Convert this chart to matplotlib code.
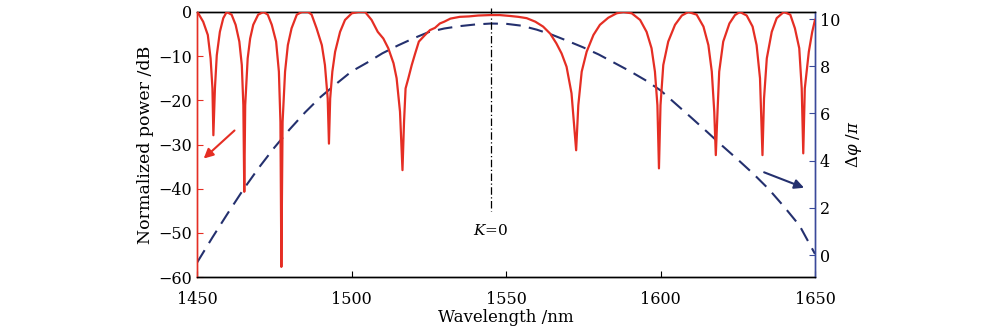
import matplotlib
matplotlib.use("Agg")
import matplotlib.pyplot as plt

plt.rcParams['font.family'] = ['DejaVu Serif']
plt.rcParams['mathtext.fontset'] = 'dejavuserif'

# Red curve: normalized power (dB) vs wavelength (nm)
wl_red = [1450.0, 1450.4, 1452.0, 1453.5, 1454.4, 1455.0, 1455.3, 1455.8, 1456.4, 1457.4, 1458.5, 1459.6,
          1461.2, 1462.5, 1463.7, 1464.5, 1465.0, 1465.3, 1465.6, 1466.4, 1467.2, 1468.2, 1469.8, 1471.5,
          1472.9, 1474.2, 1475.6, 1476.5, 1477.0, 1477.3, 1477.7, 1478.5, 1479.4, 1480.6, 1482.3, 1483.9, 1486.0,
          1487.1, 1488.7, 1490.4, 1491.4, 1492.3, 1492.7, 1493.1, 1493.8, 1494.7, 1496.3, 1497.9, 1500.1, 1502.2,
          1504.4, 1506.5, 1508.5, 1510.3, 1511.9, 1513.6, 1514.6, 1515.7, 1516.5,
          1517.0, 1517.5, 1518.4, 1519.5, 1520.6, 1521.8, 1523.8, 1525.4, 1527.0, 1528.6, 1530.0,
          1532.0, 1535.0, 1538.0, 1541.0, 1544.8, 1548.0, 1551.3, 1554.0, 1556.7, 1559.5, 1562.0, 1564.3,
          1566.3, 1568.0, 1569.6, 1571.2, 1572.7,
          1573.4, 1574.5, 1576.1, 1578.3, 1580.4, 1583.1, 1585.8, 1588.0, 1590.7, 1593.4, 1595.5, 1597.1,
          1598.2, 1599.0, 1599.5,
          1600.0, 1600.9, 1602.5, 1604.7, 1606.9, 1609.0, 1611.7, 1613.9, 1615.5, 1616.6, 1617.4, 1617.9,
          1618.4, 1619.0, 1620.3, 1622.3, 1624.1, 1625.7, 1627.9, 1629.8, 1631.1, 1632.2, 1633.0,
          1633.5, 1634.4, 1636.0, 1637.6, 1639.9, 1642.0, 1643.5, 1644.9, 1645.7, 1646.2,
          1646.7, 1648.0, 1649.1, 1650.0]
pw_red = [0.0, -0.3, -2.2, -5.2, -10.5, -17.3, -27.9, -17.3, -9.8, -4.5, -1.4, 0.0,
          -0.6, -2.9, -6.7, -12.0, -21.1, -40.7, -21.1, -10.5, -6.0, -2.9, -0.6, 0.0,
          -0.6, -2.9, -6.7, -13.5, -24.9, -57.7, -24.9, -13.5, -7.5, -3.7, -0.6, 0.0, 0.0,
          -0.6, -3.7, -7.5, -12.0, -19.6, -29.8, -19.6, -13.5, -9.0, -4.5, -1.8, -0.3, 0.0,
          0.0, -1.8, -4.5, -6.0, -8.2, -11.6, -15.0, -22.6, -35.8,
          -24.9, -17.3, -15.0, -12.0, -9.4, -6.7, -5.2, -4.1, -3.6, -2.6, -2.2,
          -1.5, -1.1, -1.0, -0.8, -0.7, -0.7, -0.9, -1.1, -1.4, -2.2, -3.3, -4.9,
          -7.1, -9.4, -12.4, -18.4, -31.3,
          -21.1, -13.5, -9.0, -5.2, -2.9, -1.3, -0.3, 0.0, -0.3, -1.8, -4.5, -8.2,
          -13.5, -21.1, -35.4,
          -21.1, -12.0, -6.7, -2.9, -0.8, 0.0, -0.6, -3.3, -7.5, -13.5, -22.6, -32.4,
          -23.4, -13.5, -6.7, -2.6, -0.7, 0.0, -0.8, -3.3, -7.5, -15.0, -32.4,
          -19.6, -10.5, -4.5, -1.4, 0.0, -0.6, -3.7, -8.2, -17.3, -32.0,
          -17.3, -9.0, -4.5, -1.8]

# Blue dashed curve: phase difference (units of pi)
wl_phase = [1450, 1455, 1460, 1465, 1470, 1475, 1480, 1485, 1490, 1495, 1500, 1505, 1510,
            1515, 1520, 1525, 1530, 1535, 1540, 1545, 1550, 1555, 1560, 1565, 1570, 1575,
            1580, 1585, 1590, 1595, 1600, 1605, 1610, 1615, 1620, 1625, 1630, 1635, 1640,
            1645, 1650]
phase = [-0.32, 0.75, 1.78, 2.78, 3.70, 4.55, 5.33, 6.05, 6.70, 7.25, 7.78, 8.15, 8.55,
         8.88, 9.18, 9.45, 9.60, 9.70, 9.77, 9.81, 9.80, 9.72, 9.55, 9.33, 9.07, 8.80,
         8.50, 8.15, 7.80, 7.42, 6.98, 6.40, 5.82, 5.23, 4.63, 4.05, 3.45, 2.80, 2.05,
         1.25, 0.05]

x_ticks = [1450, 1500, 1550, 1600, 1650]
left_ticks = [-60, -50, -40, -30, -20, -10, 0]
right_ticks = [0, 2, 4, 6, 8, 10]
k0_wl = 1545

red = '#E52E24'
navy = '#24306E'
spine_blue = '#3A4A9A'

fig = plt.figure(figsize=(10, 3.33), dpi=100)
ax = fig.add_axes([0.197, 0.168, 0.618, 0.796])
ax2 = ax.twinx()

ax2.plot(wl_phase, phase, color=navy, lw=1.5, dashes=(7, 4), zorder=1)
ax.plot(wl_red, pw_red, color=red, lw=1.6, zorder=3, solid_joinstyle='round')
ax.set_zorder(ax2.get_zorder() + 1)
ax.patch.set_visible(False)

ax.plot([k0_wl, k0_wl], [0.8, -45], color='black', lw=0.9, dashes=(6, 2, 1, 2), clip_on=False)
ax.text(k0_wl, -49.5, r'$K$=0', ha='center', va='center', fontsize=11)

ax.set_xlim(1450, 1650)
ax.set_ylim(-60, 0)
ax2.set_ylim(-0.93, 10.3)
ax.set_xticks(x_ticks)
ax.set_yticks(left_ticks)
ax2.set_yticks(right_ticks)
ax.set_yticklabels([str(v).replace('-', '\u2212') for v in left_ticks])

ax.tick_params(direction='in', labelsize=11.5, length=4)
ax.tick_params(axis='x', pad=10)
ax2.tick_params(direction='in', labelsize=11.5, length=4, colors=spine_blue, labelcolor='black')
ax.tick_params(axis='y', colors=red, labelcolor='black')

ax.spines['left'].set_color(red)
ax2.spines['left'].set_color(red)
ax2.spines['right'].set_color(spine_blue)
ax.spines['right'].set_color(spine_blue)
for a in (ax, ax2):
    for sp in a.spines.values():
        sp.set_linewidth(1.0)

ax.set_xlabel('Wavelength /nm', fontsize=12, labelpad=1)
ax.set_ylabel('Normalized power /dB', fontsize=12.5, labelpad=3)
ax2.set_ylabel(r'$\Delta\varphi$ /$\pi$', fontsize=12, labelpad=3)

ax.annotate('', xy=(1451.5, -33.6), xytext=(1462.8, -26.4),
            arrowprops=dict(arrowstyle='-|>', color=red, lw=1.5, mutation_scale=14))
ax2.annotate('', xy=(1647.3, 2.81), xytext=(1632.7, 3.55),
             arrowprops=dict(arrowstyle='-|>', color=navy, lw=1.5, mutation_scale=14))

fig.savefig('out.png', dpi=100)
